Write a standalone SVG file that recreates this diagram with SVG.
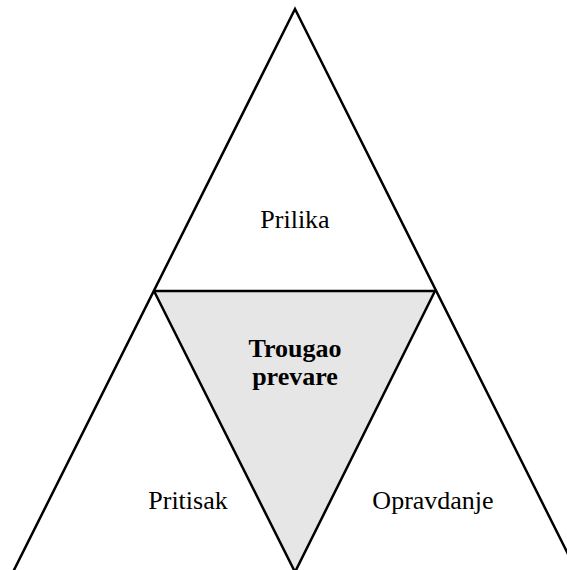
<svg xmlns="http://www.w3.org/2000/svg" width="567" height="570" viewBox="0 0 567 570">
<style>
.ln{fill:none;stroke:#000;stroke-width:2.5;stroke-linejoin:miter}
.t{font-family:"Liberation Serif","Times New Roman",serif;font-size:26px;fill:#000;text-anchor:middle}
.b{font-weight:bold}
</style>
<rect width="567" height="570" fill="#fff"/>
<g id="center">
<polygon points="154,291 435,291 295,570" fill="#e6e6e6"/>
</g>
<g id="connectors">
<polyline class="ln" points="13,572 295,9 581,580"/>
<polyline class="ln" points="154,291 435,291"/>
<polyline class="ln" points="154,291 295,572 435,291"/>
</g>
<g id="prilika"><text class="t" x="295" y="228">Prilika</text></g>
<g id="trougao"><text class="t b" x="295" y="357">Trougao</text><text class="t b" x="295" y="385">prevare</text></g>
<g id="pritisak"><text class="t" x="188" y="509">Pritisak</text></g>
<g id="opravdanje"><text class="t" x="433" y="509">Opravdanje</text></g>
</svg>
